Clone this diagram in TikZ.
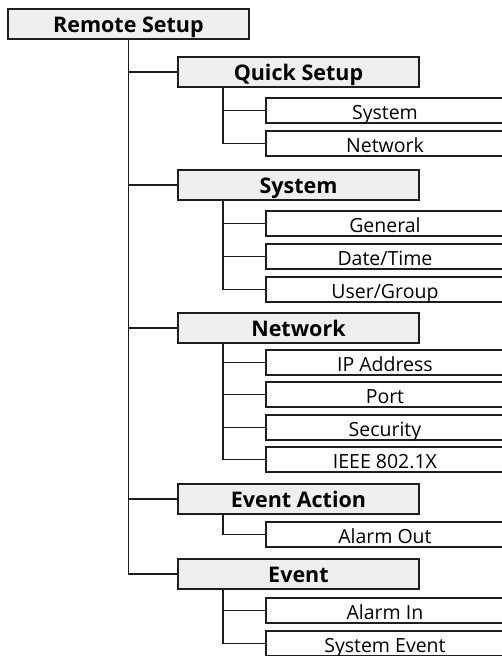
\documentclass[tikz,border=0pt]{standalone}
\usepackage{fontspec}
\setmainfont{Open Sans}
\usetikzlibrary{positioning}
\definecolor{boxgray}{HTML}{EFEFEF}
\definecolor{boxline}{HTML}{1E1E1E}

\begin{document}
\begin{tikzpicture}[
			x=1pt,
			y=-1pt,
			line cap=rect,
			line join=miter,
			line width=1.9pt,
			draw=boxline,
			rootbox/.style={draw=boxline, fill=boxgray, anchor=north west,
				minimum width=241pt, minimum height=30pt, inner sep=0pt,
				text height=18pt, text depth=0pt,
				font=\fontsize{21.5}{24}\selectfont\bfseries},
			menubox/.style={rootbox},
			itembox/.style={draw=boxline, fill=white, anchor=north west,
				minimum width=238pt, minimum height=25pt, inner sep=0pt,
				text height=18pt, text depth=0pt,
				font=\fontsize{19.5}{22}\selectfont}
			]
			
			\useasboundingbox (0,0) rectangle (502,656);
			
			\def\MenuLeft{177}
			\def\ItemLeft{265}
			\def\BranchOffset{46pt}
			
			\newcommand{\MenuItem}[4]{% name, parent, top, text
				\node[itembox] (#1) at (\ItemLeft,#3) {#4};
				\draw ([xshift=\BranchOffset]#2.south west) |- (#1.west);
			}
			
			% Root
			\node[rootbox] (root) at (7,8) {Remote Setup};
			
			% Quick Setup
			\node[menubox] (quick) at (\MenuLeft,56) {Quick Setup};
			\MenuItem{quicksys}{quick}{97}{System}
			\MenuItem{quicknet}{quick}{130}{Network}
			
			% System
			\node[menubox] (sys) at (\MenuLeft,169) {System};
			\MenuItem{general}{sys}{210}{General}
			\MenuItem{datetime}{sys}{243}{Date/Time}
			\MenuItem{usergroup}{sys}{276}{User/Group}
			
			% Network
			\node[menubox] (net) at (\MenuLeft,312) {Network};
			\MenuItem{ipaddr}{net}{349}{IP Address}
			\MenuItem{port}{net}{381}{Port}
			\MenuItem{security}{net}{414}{Security}
			\MenuItem{ieee}{net}{446}{IEEE 802.1X}
			
			% Event Action
			\node[menubox] (evact) at (\MenuLeft,483) {Event Action};
			\MenuItem{alarmout}{evact}{521}{Alarm Out}
			
			% Event
			\node[menubox] (event) at (\MenuLeft,558) {Event};
			\MenuItem{alarmin}{event}{597}{Alarm In}
			\MenuItem{sysevent}{event}{630}{System Event}
			
			% trunk
			\foreach \menu in {quick,sys,net,evact,event}
				\draw (root.south) |- (\menu.west);
			
		\end{tikzpicture}
\end{document}
